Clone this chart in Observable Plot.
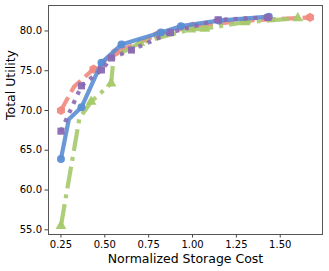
<!DOCTYPE html>
<html><head><meta charset="utf-8">
<script src="https://cdn.jsdelivr.net/npm/d3@7"></script>
<script src="https://cdn.jsdelivr.net/npm/@observablehq/plot@0.6"></script>
<style>body{margin:0;background:#fff} svg{display:block}</style>
</head><body><div id="chart"></div>
<script>
const xTicks = [0.25, 0.5, 0.75, 1.0, 1.25, 1.5];
const yTicks = [55, 60, 65, 70, 75, 80];
const xLabel = "Normalized Storage Cost";
const yLabel = "Total Utility";

const redCost = [0.25, 0.325, 0.435, 0.56, 0.80, 1.0, 1.3, 1.67];
const redUtil = [70.0, 73.0, 75.2, 77.3, 79.5, 80.6, 81.3, 81.7];

const greenCost = [0.25, 0.355, 0.422, 0.536, 0.55, 0.70, 0.99, 1.07, 1.3, 1.6];
const greenUtil = [55.5, 69.0, 71.1, 73.4, 76.7, 78.5, 80.2, 80.3, 81.1, 81.6];

const blueCost = [0.25, 0.295, 0.367, 0.481, 0.595, 0.82, 0.934, 1.15, 1.435];
const blueUtil = [63.9, 68.9, 70.4, 76.0, 78.3, 79.8, 80.6, 81.3, 81.8];

const purpleCost = [0.25, 0.367, 0.481, 0.538, 0.652, 0.875, 1.146, 1.43];
const purpleUtil = [67.4, 73.1, 75.1, 76.6, 77.6, 79.8, 81.4, 81.7];

// points whose marker is not visible in the reference (line vertices only)
const redHidden = [1];
const greenHidden = [1, 4];
const blueHidden = [1];
const purpleHidden = [];

const series = [
  {cost: redCost, util: redUtil, hidden: redHidden, color: "#f08a80", dash: "15,6", symbol: "hexagon"},
  {cost: greenCost, util: greenUtil, hidden: greenHidden, color: "#a6c96a", dash: "22,6,4,6", symbol: "triangle"},
  {cost: blueCost, util: blueUtil, hidden: blueHidden, color: "#5b8ed3", dash: null, symbol: "circle"},
  {cost: purpleCost, util: purpleUtil, hidden: purpleHidden, color: "#8a69b2", dash: "4,6", symbol: "square"}
];

const marks = [];
for (const s of series) {
  const data = s.cost.map((c, i) => ({c, u: s.util[i], show: !s.hidden.includes(i)}));
  marks.push(Plot.line(data, {x: "c", y: "u", stroke: s.color, strokeWidth: 4.2,
    strokeDasharray: s.dash || undefined, strokeLinecap: "butt", strokeLinejoin: "round", strokeOpacity: 0.9}));
  marks.push(Plot.dot(data.filter(d => d.show), {x: "c", y: "u", fill: s.color, symbol: s.symbol, r: 4, fillOpacity: 0.95, stroke: "none"}));
}

const plot = Plot.plot({
  width: 329, height: 271,
  marginLeft: 48, marginRight: 7, marginTop: 5, marginBottom: 37,
  style: {fontFamily: "DejaVu Sans", fontSize: "10px", color: "black", background: "white"},
  x: {domain: [0.179, 1.741]},
  y: {domain: [54.41, 83.2]},
  marks: [
    Plot.axisX(xTicks, {tickSize: 3.5, tickPadding: 3, tickFormat: d => d.toFixed(2), label: null, fontSize: 10, stroke: "#444"}),
    Plot.axisY(yTicks, {tickSize: 3.5, tickPadding: 3, tickFormat: d => d.toFixed(1), label: null, fontSize: 10, stroke: "#444"}),
    ...marks,
    Plot.frame({stroke: "#555", strokeWidth: 1}),
    Plot.text([xLabel], {frameAnchor: "bottom", dy: 24, fontSize: 12.5, lineAnchor: "middle", fill: "black"}),
    Plot.text([yLabel], {frameAnchor: "left", dx: -38, rotate: -90, fontSize: 12.5, fill: "black"})
  ]
});
document.getElementById("chart").appendChild(plot);
</script>
</body></html>
